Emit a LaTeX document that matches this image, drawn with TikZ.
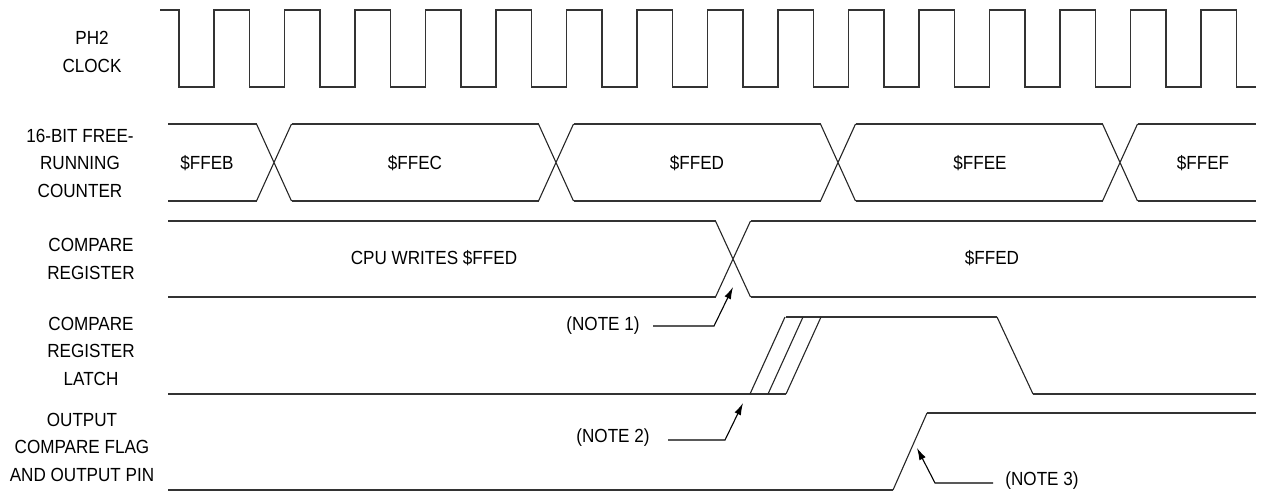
\documentclass[tikz,border=0pt]{standalone}
\usepackage{fontspec}
\setmainfont{Liberation Sans}
\newfontfamily\narrowsans[FakeStretch=0.9]{Liberation Sans}
\usetikzlibrary{arrows.meta}
\begin{document}
\begin{tikzpicture}[x=1pt, y=-1pt,
        wave/.style={line width=1.5pt, black!80},
        edge/.style={line width=1.1pt, black!85},
        notearrow/.style={line width=1.1pt, -{Latex[length=12pt,width=7pt]}},
        lbl/.style={align=center, font=\narrowsans\fontsize{19}{27.5}\selectfont},
        val/.style={font=\narrowsans\fontsize{19}{22}\selectfont}]
    \useasboundingbox (0,0) rectangle (1266,493);

    % signal names
    \node [lbl] (clk) at (92,52) {PH2\\CLOCK};
    \node [lbl] (cnt) at (80,163) {16-BIT FREE-\\RUNNING\\COUNTER};
    \node [lbl] (reg) at (91,259) {COMPARE\\REGISTER};
    \node [lbl] (lat) at (91,351) {COMPARE\\REGISTER\\LATCH};
    \node [lbl] (ocf) at (82,447) {OUTPUT\\COMPARE FLAG\\AND OUTPUT PIN};

    % PH2 clock
    \draw [wave] (160,10) foreach \k in {0,...,14} {
            -- ({179+70.5*\k},10) -- ({179+70.5*\k},87)
            -- ({214+70.5*\k},87) -- ({214+70.5*\k},10)
        } -- (1236.5,10) -- (1236.5,87) -- (1256,87);

    % free-running counter
    \foreach \a/\b in {168/256.5, 291.5/538.5, 573.5/820.5, 855.5/1102.5, 1137.5/1256}
        \draw [wave] (\a,124) -- (\b,124) (\a,201) -- (\b,201);
    \foreach \c in {274,556,838,1120}
        \draw [edge] (\c-17.5,124) -- (\c+17.5,201) (\c-17.5,201) -- (\c+17.5,124);
    \node [val] (ffeb) at (207,163) {\$FFEB};
    \node [val] (ffec) at (415,163) {\$FFEC};
    \node [val] (ffed) at (697,163) {\$FFED};
    \node [val] (ffee) at (980,163) {\$FFEE};
    \node [val] (ffef) at (1203,163) {\$FFEF};

    % compare register
    \draw [wave] (168,221) -- (715.5,221) (750.5,221) -- (1256,221)
        (168,297) -- (715.5,297) (750.5,297) -- (1256,297);
    \draw [edge] (715.5,221) -- (750.5,297) (715.5,297) -- (750.5,221);
    \node [val] (cpuw) at (434,258) {CPU WRITES \$FFED};
    \node [val] (regv) at (992,258) {\$FFED};

    % compare register latch
    \draw [wave] (168,394) -- (786,394) (786,317) -- (997,317) (1033,394) -- (1256,394);
    \foreach \s in {0,18,36}
        \draw [edge] (750+\s,394) -- (785+\s,317);
    \draw [edge] (997,317) -- (1033,394);

    % output compare flag
    \draw [wave] (168,490) -- (893,490) (927,413) -- (1256,413);
    \draw [edge] (893,490) -- (927,413);

    % notes
    \node [val] (n1) at (603,326) {(NOTE 1)};
    \node [val] (n2) at (613,438) {(NOTE 2)};
    \node [val] (n3) at (1042,481) {(NOTE 3)};
    \coordinate (b1) at (714,326);  \coordinate (t1) at (733,287);
    \coordinate (b2) at (725,440);  \coordinate (t2) at (743,403);
    \coordinate (b3) at (935,483);  \coordinate (t3) at (917,448);
    \draw [notearrow, shorten <=10pt] (n1.east) -- (b1) -- (t1);
    \draw [notearrow] (668,440) -- (b2) -- (t2);
    \draw [notearrow] (993,483) -- (b3) -- (t3);
\end{tikzpicture}
\end{document}
